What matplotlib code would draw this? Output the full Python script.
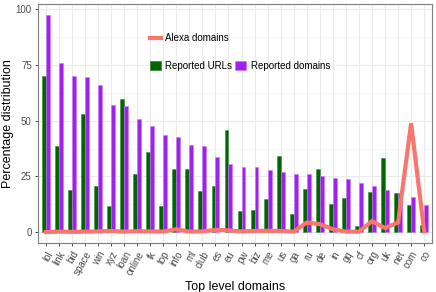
import matplotlib
matplotlib.use("Agg")
import matplotlib.pyplot as plt
import matplotlib.patches as mpatches
from matplotlib.lines import Line2D
from matplotlib.ticker import MultipleLocator
import numpy as np

plt.rcParams["font.family"] = ["Liberation Sans", "DejaVu Sans"]

_GREEN = "#006400"
_PURPLE = "#A020F0"
_SALMON = "#F8766D"
_GRID = "#EBEBEB"
_TICK = "#4D4D4D"

tlds = ["lol", "link", "bid", "space", "win", "xyz", "loan", "online", "tk", "top",
        "info", "ml", "club", "es", "eu", "pw", "biz", "me", "us", "ga",
        "ru", "de", "in", "gq", "cf", "org", "uk", "net", "com", "co"]
reported_urls = [70.2, 38.7, 19.0, 52.9, 20.6, 11.9, 59.8, 26.1, 36.0, 11.5,
                 28.4, 28.4, 18.4, 20.9, 45.9, 9.4, 10.0, 14.9, 34.1, 8.3,
                 19.4, 28.4, 12.7, 15.5, 2.8, 17.8, 33.2, 17.5, 12.1, 3.0]
reported_domains = [97.6, 75.8, 70.0, 69.6, 65.9, 56.9, 56.6, 50.8, 47.7, 43.5,
                    42.7, 39.0, 38.6, 33.6, 30.6, 29.3, 29.1, 27.8, 26.9, 26.1,
                    26.0, 25.4, 24.2, 23.8, 22.2, 20.9, 19.0, 17.6, 15.7, 12.3]
alexa_domains = [0.0, 0.2, 0.1, 0.2, 0.3, 0.5, 0.2, 0.4, 0.3, 0.2,
                 1.3, 0.2, 0.3, 1.0, 0.8, 0.3, 0.5, 0.6, 0.5, 0.2,
                 4.3, 3.6, 1.3, 0.2, 0.2, 4.9, 1.8, 4.3, 48.9, 0.3]

fig = plt.figure(figsize=(4.36, 2.92), dpi=100)
ax = fig.add_axes([38 / 436, 1 - 243 / 292, 394 / 436, 239.3 / 292])

x = np.arange(1, len(tlds) + 1)
w = 0.3
ax.bar(x - w / 2, reported_urls, width=w, color=_GREEN, edgecolor="#3c8c3c",
       linewidth=0.4, zorder=2)
ax.bar(x + w / 2, reported_domains, width=w, color=_PURPLE, edgecolor="#c77cf5",
       linewidth=0.4, zorder=2)
ax.plot(x, alexa_domains, color=_SALMON, linewidth=3.0, solid_joinstyle="miter",
        zorder=3)

ax.set_xlim(0.4, len(tlds) + 0.6)
ax.set_ylim(-4.9, 102.6)
ax.yaxis.set_major_locator(MultipleLocator(25))
ax.yaxis.set_minor_locator(MultipleLocator(12.5))
ax.set_xticks(x)
ax.set_xticklabels(tlds, rotation=60, ha="right", rotation_mode="anchor",
                   fontsize=7, color=_TICK)
ax.tick_params(axis="y", labelsize=7, labelcolor=_TICK, pad=2)
ax.tick_params(axis="x", pad=2)
ax.tick_params(axis="both", which="major", length=2.5, color="#333333", width=0.6)
ax.tick_params(axis="y", which="minor", length=0)
ax.grid(True, which="major", color=_GRID, linewidth=0.8, zorder=0)
ax.grid(True, which="minor", axis="y", color="#F3F3F3", linewidth=0.5, zorder=0)
ax.set_axisbelow(True)
for s in ax.spines.values():
    s.set_color("#7F7F7F")
    s.set_linewidth(0.8)

ax.set_xlabel("Top level domains", fontsize=9)
ax.set_ylabel("Percentage distribution", fontsize=9)
ax.xaxis.set_label_coords((235 - 38) / 394, (243 - 281) / 239.3)
ax.yaxis.set_label_coords((14 - 38) / 394, 0.5)

line_handle = Line2D([0], [0], color=_SALMON, linewidth=3.0)
fig.legend(handles=[line_handle], labels=["Alexa domains"],
           loc="center left", bbox_to_anchor=(150 / 436, 1 - 38 / 292),
           frameon=False, fontsize=7, handlelength=1.1, handletextpad=0.45,
           borderaxespad=0, borderpad=0)
bar_handles = [
    mpatches.Patch(facecolor=_GREEN, edgecolor="#3c8c3c", linewidth=0.6),
    mpatches.Patch(facecolor=_PURPLE, edgecolor="#c77cf5", linewidth=0.6),
]
fig.legend(handles=bar_handles, labels=["Reported URLs", "Reported domains"],
           loc="center left", bbox_to_anchor=(150 / 436, 1 - 66 / 292),
           ncol=2, frameon=False, fontsize=7, handlelength=1.1, handleheight=1.1,
           handletextpad=0.45, columnspacing=0.35, borderaxespad=0, borderpad=0)

fig.savefig("out.png", dpi=100)
plt.close(fig)
